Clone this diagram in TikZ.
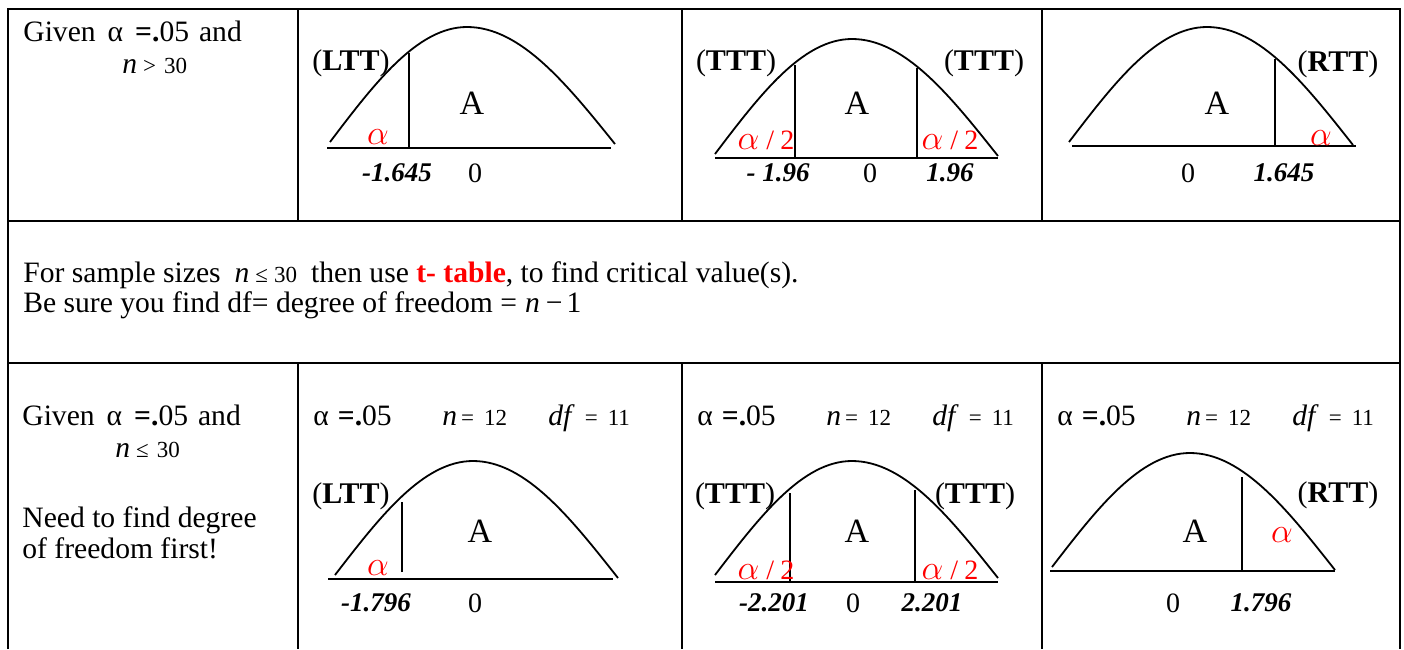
\documentclass[tikz,border=0pt]{standalone}
\usepackage{fontspec}
\setmainfont{Liberation Serif}
\usetikzlibrary{positioning}
\definecolor{tailred}{RGB}{255,0,0}
\newcommand{\smallmath}[1]{{\fontsize{11.5}{13}\selectfont #1}}
\newcommand{\tailalpha}{{\fontsize{16}{16}\selectfont$\alpha$}}

\begin{document}
\begin{tikzpicture}[
    x=0.5pt, y=-0.5pt,
    grid/.style={line width=1.2pt},
    curve/.style={line width=0.9pt},
    txt/.style={inner sep=0pt, anchor=base west, font=\fontsize{14.8}{17}\selectfont},
    tag/.style={inner sep=0pt, font=\fontsize{15}{17}\selectfont},
    area/.style={inner sep=0pt, font=\fontsize{17}{20}\selectfont},
    tailtxt/.style={inner sep=0pt, text=tailred, font=\fontsize{14}{16}\selectfont},
    crit/.style={inner sep=0pt, font=\fontsize{13.5}{15}\bfseries\itshape\selectfont},
    zero/.style={inner sep=0pt, font=\fontsize{14}{16}\selectfont},
]
\useasboundingbox (0,0) rectangle (1404,649);

% table rules
\draw[grid] (8,649) -- (8,9) -- (1400,9) -- (1400,649);
\draw[grid] (8,221) -- (1400,221);
\draw[grid] (8,363) -- (1400,363);
\draw[grid] (298,9) -- (298,221);
\draw[grid] (682,9) -- (682,221);
\draw[grid] (1042,9) -- (1042,221);
\draw[grid] (298,363) -- (298,649);
\draw[grid] (682,363) -- (682,649);
\draw[grid] (1042,363) -- (1042,649);

% row 1: z-values
\node[txt] (given1) at (23,41) {Given\hspace{6pt}α\hspace{6pt}\textbf{=.}05\hspace{5pt}and};
\node[txt] (nbig) at (122,73) {\textit{n}\hspace{3pt}\smallmath{>\hspace{4pt}30}};

% left tail
\draw[curve] (330,142) sin (467,27) cos (615,144);
\draw[curve] (327,148) -- (611,148);
\draw[curve] (409,148) -- (409,53);
\node[tag] (ltt1) at (351,63) {(\textbf{LTT})};
\node[area] (area1) at (472,103) {A};
\node[tailtxt] (alpha1) at (378,137) {\tailalpha};
\node[crit] (zl1) at (397,173) {-1.645};
\node[zero] (zero1) at (475,173) {0};

% two tails
\draw[curve] (715,154) sin (852,39) cos (998,156);
\draw[curve] (715,158) -- (998,158);
\draw[curve] (795,158) -- (795,65);
\draw[curve] (917,158) -- (917,68);
\node[tag] (tttl1) at (736,63) {(\textbf{TTT})};
\node[tag] (tttr1) at (984,63) {(\textbf{TTT})};
\node[area] (area2) at (857,103) {A};
\node[tailtxt] (halfl1) at (766,140) {\tailalpha\hspace{3.5pt}/\hspace{3pt}2};
\node[tailtxt] (halfr1) at (950,140) {\tailalpha\hspace{3.5pt}/\hspace{3pt}2};
\node[crit] (zl2) at (778,173) {- 1.96};
\node[zero] (zero2) at (870,173) {0};
\node[crit] (zr2) at (950,173) {1.96};

% right tail
\draw[curve] (1069,142) sin (1207,27) cos (1353,145);
\draw[curve] (1072,146) -- (1356,146);
\draw[curve] (1275,146) -- (1275,59);
\node[tag] (rtt1) at (1338,64) {(\textbf{RTT})};
\node[area] (area3) at (1217,103) {A};
\node[tailtxt] (alpha3) at (1321,138) {\tailalpha};
\node[zero] (zero3) at (1188,173) {0};
\node[crit] (zr3) at (1284,173) {1.645};

% row 2: note on t-table
\node[txt] (note1) at (23,282) {For sample sizes\hspace{7pt}\textit{n}\hspace{3pt}\smallmath{≤\hspace{3pt}30}\hspace{7pt}then use \textcolor{tailred}{\textbf{t- table}}, to find critical value(s).};
\node[txt] (note2) at (23,312) {Be sure you find df= degree of freedom =\hspace{4pt}\textit{n}\hspace{3pt}−\hspace{2pt}1};

% row 3: t-values
\node[txt] (given2) at (22,425) {Given\hspace{6pt}α\hspace{6pt}\textbf{=.}05\hspace{5pt}and};
\node[txt] (nsmall) at (115,457) {\textit{n}\hspace{3pt}\smallmath{≤\hspace{4pt}30}};
\node[txt] (need1) at (22,527) {Need to find degree};
\node[txt] (need2) at (22,558) {of freedom first!};

\foreach \x/\cell in {313/a, 697/b, 1057/c} {
  \node[txt] (alp\cell) at (\x,425) {α\hspace{4.5pt}\textbf{=.}05};
  \node[txt] (n\cell) at (\x+129,425) {\textit{n}\hspace{2pt}\smallmath{=\hspace{5pt}12}};
  \node[txt] (df\cell) at (\x+235,425) {\textit{df}\hspace{5pt}\smallmath{=\hspace{5pt}11}};
}

% left tail
\draw[curve] (335,575) sin (473,461) cos (618,578);
\draw[curve] (328,579) -- (613,579);
\draw[curve] (402,572) -- (402,502);
\node[tag] (ltt2) at (351,496) {(\textbf{LTT})};
\node[area] (area4) at (480,531) {A};
\node[tailtxt] (alpha4) at (378,568) {\tailalpha};
\node[crit] (zl4) at (376,603) {-1.796};
\node[zero] (zero4) at (475,603) {0};

% two tails
\draw[curve] (715,575) sin (852,461) cos (998,578);
\draw[curve] (715,582) -- (998,582);
\draw[curve] (790,583) -- (790,493);
\draw[curve] (915,582) -- (915,490);
\node[tag] (tttl2) at (735,496) {(\textbf{TTT})};
\node[tag] (tttr2) at (975,496) {(\textbf{TTT})};
\node[area] (area5) at (857,531) {A};
\node[tailtxt] (halfl2) at (766,570) {\tailalpha\hspace{3.5pt}/\hspace{3pt}2};
\node[tailtxt] (halfr2) at (950,570) {\tailalpha\hspace{3.5pt}/\hspace{3pt}2};
\node[crit] (zl5) at (774,603) {-2.201};
\node[zero] (zero5) at (853,603) {0};
\node[crit] (zr5) at (932,603) {2.201};

% right tail
\draw[curve] (1052,567) sin (1190,453) cos (1335,570);
\draw[curve] (1050,571) -- (1335,571);
\draw[curve] (1242,571) -- (1242,477);
\node[tag] (rtt2) at (1338,495) {(\textbf{RTT})};
\node[area] (area6) at (1195,531) {A};
\node[tailtxt] (alpha6) at (1282,535) {\tailalpha};
\node[zero] (zero6) at (1173,603) {0};
\node[crit] (zr6) at (1261,603) {1.796};
\end{tikzpicture}
\end{document}
